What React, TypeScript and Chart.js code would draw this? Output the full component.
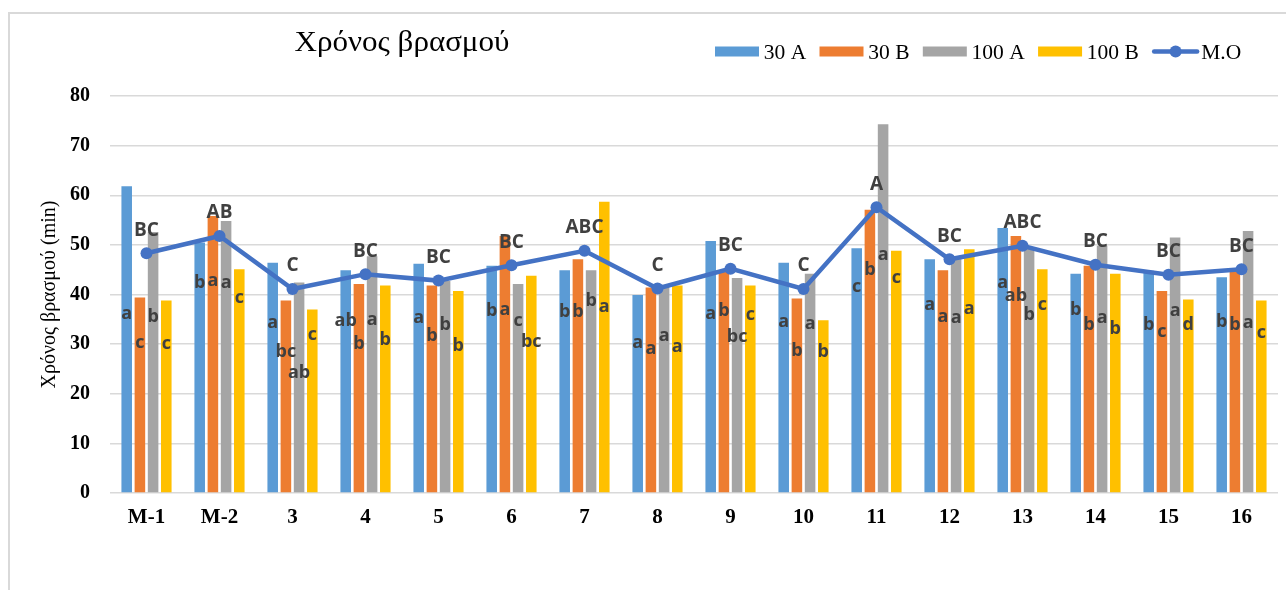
import React, { useEffect, useRef } from "react";
import { Chart, registerables } from "chart.js";

Chart.register(...registerables);

const categories = ["M-1", "M-2", "3", "4", "5", "6", "7", "8", "9", "10", "11", "12", "13", "14", "15", "16"];

const series30A = [61.8, 50.5, 46.4, 44.9, 46.2, 45.8, 44.9, 39.9, 50.8, 46.4, 49.3, 47.1, 53.4, 44.2, 44.8, 43.5];
const series30B = [39.4, 55.8, 38.8, 42.1, 41.8, 51.8, 47.1, 41.4, 44.9, 39.2, 57.1, 44.9, 51.8, 45.8, 40.7, 45.0];
const series100A = [52.6, 54.8, 42.4, 47.7, 42.7, 42.1, 44.9, 41.7, 43.3, 44.2, 74.3, 47.3, 49.2, 49.8, 51.5, 52.8];
const series100B = [38.8, 45.1, 37.0, 41.8, 40.7, 43.8, 58.7, 41.8, 41.8, 34.8, 48.8, 49.1, 45.1, 44.2, 39.0, 38.8];
const seriesMO = [48.3, 51.8, 41.1, 44.1, 42.8, 45.9, 48.8, 41.2, 45.2, 41.1, 57.6, 47.1, 49.8, 46.0, 44.0, 45.1];

const letters30A = ["a", "b", "a", "ab", "a", "b", "b", "a", "a", "a", "c", "a", "a", "b", "b", "b"];
const letters30B = ["c", "a", "bc", "b", "b", "a", "b", "a", "b", "b", "b", "a", "ab", "b", "c", "b"];
const letters100A = ["b", "a", "ab", "a", "b", "c", "b", "a", "bc", "a", "a", "a", "b", "a", "a", "a"];
const letters100B = ["c", "c", "c", "b", "b", "bc", "a", "a", "c", "b", "c", "a", "c", "b", "d", "c"];
const lettersMO = ["BC", "AB", "C", "BC", "BC", "BC", "ABC", "C", "BC", "C", "A", "BC", "ABC", "BC", "BC", "BC"];

// value level (in minutes) at which each letter sits
const letterLevel30A = [36.1, 42.3, 34.3, 34.7, 35.2, 36.6, 36.5, 30.3, 36.0, 34.4, 41.5, 38.0, 42.4, 37.0, 33.8, 34.4];
const letterLevel30B = [30.3, 42.7, 28.4, 30.1, 31.6, 37.0, 36.5, 29.1, 36.8, 28.6, 44.9, 35.5, 39.7, 33.8, 32.5, 33.9];
const letterLevel100A = [35.4, 42.4, 24.3, 34.8, 33.9, 34.7, 38.8, 31.6, 31.5, 34.0, 47.9, 35.2, 35.8, 35.2, 36.7, 34.2];
const letterLevel100B = [30.1, 39.4, 31.8, 30.8, 29.6, 30.4, 37.5, 29.4, 35.8, 28.4, 43.4, 37.2, 38.0, 33.1, 33.8, 32.3];

const yTicks = [0, 10, 20, 30, 40, 50, 60, 70, 80];

const seriesNames = ["30 A", "30 B", "100 A", "100 B", "M.O"];
const seriesColors = ["#5B9BD5", "#ED7D31", "#A5A5A5", "#FFC000", "#4472C4"];

const titleText = "Χρόνος βρασμού";
const yTitleText = "Χρόνος βρασμού (min)";

const SERIF = "'Liberation Serif', 'Times New Roman', serif";
const SANS = "'Open Sans', 'DejaVu Sans', sans-serif";

const decorPlugin = {
  id: "decor",
  beforeDraw(chart: any) {
    const ctx = chart.ctx;
    ctx.save();
    ctx.strokeStyle = "#D9D9D9";
    ctx.lineWidth = 2;
    ctx.strokeRect(9, 13, 1400, 700);
    ctx.restore();
  },
  afterDraw(chart: any) {
    const ctx = chart.ctx;
    ctx.save();
    // title
    ctx.fillStyle = "#000";
    ctx.font = `29px ${SERIF}`;
    ctx.textAlign = "center";
    ctx.textBaseline = "alphabetic";
    ctx.save();
    ctx.translate(402, 51);
    ctx.scale(1.07, 1);
    ctx.fillText(titleText, 0, 0);
    ctx.restore();

    // legend
    ctx.font = `21.5px ${SERIF}`;
    ctx.textAlign = "left";
    ctx.textBaseline = "middle";
    let x = 715;
    const cy = 51.5;
    seriesNames.forEach((name, i) => {
      let tx;
      if (i < 4) {
        const w = 44;
        ctx.fillStyle = seriesColors[i];
        ctx.fillRect(x, cy - 5, w, 10);
        tx = x + w + 4.8;
      } else {
        const w = 47;
        ctx.strokeStyle = seriesColors[i];
        ctx.lineWidth = 4.5;
        ctx.lineCap = "round";
        ctx.beginPath();
        ctx.moveTo(x + 2, cy);
        ctx.lineTo(x + w - 2, cy);
        ctx.stroke();
        ctx.fillStyle = seriesColors[i];
        ctx.beginPath();
        ctx.arc(x + w / 2, cy, 6, 0, Math.PI * 2);
        ctx.fill();
        tx = x + w + 2;
      }
      ctx.fillStyle = "#000";
      ctx.fillText(name, tx, cy + 2);
      x = tx + ctx.measureText(name).width + 13.3;
    });
    ctx.restore();
  },
  afterDatasetsDraw(chart: any) {
    const ctx = chart.ctx;
    const yScale = chart.scales.y;
    const letterSets = [letters30A, letters30B, letters100A, letters100B];
    const levelSets = [letterLevel30A, letterLevel30B, letterLevel100A, letterLevel100B];
    ctx.save();
    ctx.fillStyle = "#404040";
    ctx.textAlign = "center";
    ctx.textBaseline = "middle";
    ctx.font = `bold 18px ${SANS}`;
    for (let d = 0; d < 4; d++) {
      const meta = chart.getDatasetMeta(d);
      meta.data.forEach((bar: any, j: number) => {
        ctx.fillText(letterSets[d][j], bar.x, yScale.getPixelForValue(levelSets[d][j]));
      });
    }
    ctx.font = `bold 19px ${SANS}`;
    const lineMeta = chart.getDatasetMeta(4);
    lineMeta.data.forEach((pt: any, j: number) => {
      ctx.fillText(lettersMO[j], pt.x, pt.y - 23);
    });
    ctx.restore();
  },
};

export default function App() {
  const canvasRef = useRef<HTMLCanvasElement | null>(null);

  useEffect(() => {
    const canvas = canvasRef.current;
    if (!canvas) return;
    const barSets = [series30A, series30B, series100A, series100B];
    const chart = new Chart(canvas, {
      type: "bar",
      data: {
        labels: categories,
        datasets: [
          ...barSets.map((data, i) => ({
            type: "bar" as const,
            label: seriesNames[i],
            data,
            backgroundColor: seriesColors[i],
            borderWidth: 0,
            categoryPercentage: 0.723,
            barPercentage: 0.8,
            order: 1,
          })),
          {
            type: "line" as const,
            label: seriesNames[4],
            data: seriesMO,
            borderColor: seriesColors[4],
            backgroundColor: seriesColors[4],
            borderWidth: 4.5,
            pointRadius: 6,
            pointBorderWidth: 0,
            pointBackgroundColor: seriesColors[4],
            tension: 0,
            order: 0,
          },
        ],
      },
      options: {
        responsive: false,
        devicePixelRatio: 1,
        animation: false,
        layout: { padding: { left: 28, right: 8, top: 96, bottom: 57 } },
        plugins: {
          legend: { display: false },
          title: { display: false },
          tooltip: { enabled: false },
        },
        scales: {
          x: {
            grid: { display: false, drawTicks: false },
            border: { display: false },
            ticks: {
              color: "#000",
              font: { family: SERIF, size: 21, weight: "bold" },
              padding: 12,
              maxRotation: 0,
              autoSkip: false,
            },
            afterFit(scale: any) {
              scale.height = 40;
            },
          },
          y: {
            min: 0,
            max: 80,
            afterBuildTicks(scale: any) {
              scale.ticks = yTicks.map((v) => ({ value: v }));
            },
            grid: { color: "#D9D9D9", lineWidth: 1.5, drawTicks: false },
            border: { display: false },
            ticks: {
              color: "#000",
              font: { family: SERIF, size: 20, weight: "bold" },
              padding: 20,
            },
            title: {
              display: true,
              text: yTitleText,
              color: "#000",
              font: { family: SERIF, size: 20 },
              padding: { top: 10, bottom: 0 },
            },
            afterFit(scale: any) {
              scale.width = 82;
            },
          },
        },
      },
      plugins: [decorPlugin],
    } as any);
    return () => chart.destroy();
  }, []);

  return (
    <div style={{ position: "fixed", left: 0, top: 0, width: 1286, height: 590, background: "#fff" }}>
      <canvas ref={canvasRef} width={1286} height={590} style={{ display: "block" }} />
    </div>
  );
}
